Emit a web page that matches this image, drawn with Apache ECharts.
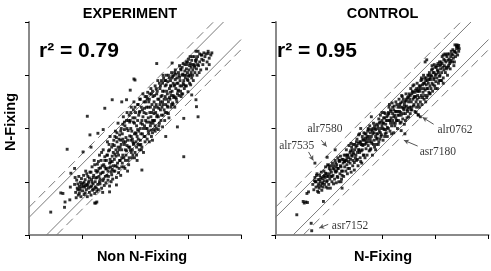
<!DOCTYPE html>
<html><head><meta charset="utf-8">
<script src="https://cdn.jsdelivr.net/npm/echarts@6/dist/echarts.min.js"></script>
<style>html,body{margin:0;padding:0;background:#fff}#c{width:491px;height:271px}</style>
</head><body><div id="c"></div>
<script>
// Values in hundredths of an axis unit (axes run 0..400, ticks every 100)
const tickValues = [0, 100, 200, 300, 400];
const solidOffsets = [33, -33];
const dashedOffsets = [52, -52];
const panelTitles = ['EXPERIMENT', 'CONTROL'];
const r2Labels = ['r\u00b2 = 0.79', 'r\u00b2 = 0.95'];
const xNames = ['Non N-Fixing', 'N-Fixing'];
const yName = 'N-Fixing';

const expPts = [
[86,95],[88,80],[90,103],[91,88],[93,75],[94,110],[95,92],[96,84],[97,99],[98,72],[99,106],[100,90],[87,108],[89,70],[92,96],[95,78],
[101,83],[102,97],[103,112],[104,76],[105,90],[106,104],[107,120],[108,85],[109,95],[110,72],[111,110],[112,88],[113,101],[114,80],[115,118],[103,92],[106,79],[109,115],[112,98],[114,107],
[116,90],[117,75],[118,104],[119,128],[120,84],[121,96],[122,112],[123,140],[124,78],[125,100],[126,121],[127,88],[128,108],[129,133],[130,95],[117,118],[119,99],[122,86],[124,132],[126,107],[128,82],[130,120],
[131,85],[132,110],[133,150],[134,96],[135,126],[136,140],[137,88],[138,117],[139,102],[140,160],[141,132],[142,93],[143,147],[144,110],[145,124],[131,138],[133,100],[135,115],[137,155],[139,80],[141,105],[143,128],[145,98],
[146,140],[147,112],[148,175],[149,103],[150,158],[151,126],[152,92],[153,185],[154,137],[155,118],[156,165],[157,148],[158,105],[159,130],[160,178],[147,150],[149,120],[151,170],[153,142],[155,100],[157,123],[159,155],[152,135],[156,113],
[161,142],[162,120],[163,195],[164,160],[165,108],[166,175],[167,135],[168,210],[169,150],[170,125],[171,188],[172,165],[173,112],[174,200],[175,145],[161,168],[163,130],[165,183],[167,155],[169,117],[171,140],[173,178],[175,128],[162,152],[166,192],[170,160],[174,170],
[176,190],[177,150],[178,222],[179,128],[180,170],[181,205],[182,140],[183,183],[184,158],[185,230],[186,120],[187,196],[188,165],[189,145],[190,212],[176,135],[178,175],[180,198],[182,160],[184,215],[186,178],[188,132],[190,186],[177,208],[181,125],[185,168],[189,225],
[191,160],[192,200],[193,240],[194,145],[195,180],[196,220],[197,170],[198,250],[199,190],[200,155],[201,230],[202,175],[203,205],[204,140],[205,245],[191,215],[193,185],[195,160],[197,235],[199,210],[201,192],[203,165],[205,198],[192,178],[196,150],[200,220],[204,185],[198,172],
[206,180],[207,225],[208,160],[209,255],[210,200],[211,170],[212,240],[213,215],[214,190],[215,265],[216,155],[217,230],[218,205],[219,175],[220,250],[207,195],[209,232],[211,210],[213,165],[215,222],[217,185],[219,260],[206,245],[210,178],[214,208],[218,238],
[221,200],[222,240],[223,180],[224,268],[225,220],[226,190],[227,255],[228,230],[229,205],[230,275],[231,185],[232,245],[233,215],[234,260],[235,198],[221,228],[223,255],[225,195],[227,212],[229,240],[231,265],[233,192],[235,235],[222,212],[226,250],[230,222],[234,210],
[236,250],[237,215],[238,280],[239,230],[240,200],[241,265],[242,240],[243,290],[244,222],[245,255],[246,210],[247,275],[248,235],[249,260],[250,290],[236,228],[238,205],[240,245],[242,270],[244,198],[246,285],[248,250],[237,262],[241,222],[245,238],[249,215],
[251,240],[252,270],[253,225],[254,295],[255,255],[256,215],[257,280],[258,245],[259,300],[260,230],[261,265],[262,288],[263,250],[264,220],[265,275],[251,262],[253,300],[255,235],[257,260],[259,282],[261,242],[263,228],[265,295],[252,250],[256,290],[260,270],
[266,255],[267,290],[268,240],[269,305],[270,270],[271,248],[272,285],[273,300],[274,260],[275,240],[276,310],[277,275],[278,255],[279,295],[280,265],[267,268],[269,245],[271,298],[273,258],[275,282],[277,302],[279,250],[268,280],[272,262],[276,292],
[281,285],[282,305],[283,262],[284,318],[285,290],[286,270],[287,310],[288,280],[289,300],[290,265],[291,322],[292,290],[293,275],[294,308],[295,295],[282,272],[284,296],[286,312],[288,265],[290,302],[292,282],[294,320],
[296,300],[297,280],[298,320],[299,305],[300,290],[301,330],[302,310],[303,285],[304,322],[305,300],[306,315],[307,295],[308,335],[309,310],[310,290],[297,312],[299,325],[301,298],[303,318],[305,282],[307,328],[309,300],
[311,320],[312,335],[313,305],[314,328],[315,345],[316,312],[317,300],[318,335],[320,318],[322,340],[324,310],[326,330],[328,320],[330,342],[313,318],[316,330],[319,345],[321,305],[325,338],[329,328],
[332,335],[334,340],[336,325],[338,345],[340,332],[343,338],[345,342],[335,312],[340,320]
];
const expCore = [
[96,88],[99,95],[104,99],[107,93],[111,93],[118,92],[121,108],[125,90],[128,118],[132,125],[134,105],[138,130],[140,118],[143,140],[146,125],[148,150],[150,110],[152,160],[154,128],[157,138],[158,170],[160,120],[162,185],[164,148],[166,128],[168,165],[170,180],[172,140],[173,195],[175,160],[177,180],[179,145],[180,212],[182,175],[183,150],[185,200],[187,140],[188,215],[190,165],[192,230],[193,155],[194,195],[196,175],[197,212],[199,145],[200,240],[202,190],[203,150],[205,215],[206,170],[208,230],[210,255],[211,190],[212,160],[214,235],[216,200],[217,250],[219,185],[220,215],[222,260],[223,200],[225,240],[227,175],[228,265],[230,210],[232,230],[233,270],[235,215],[237,240],[238,195],[240,275],[242,225],[243,255],[245,205],[247,245],[248,280],[250,225],[252,285],[253,245],[255,270],[257,230],[258,290],[260,255],[262,240],[263,300],[265,258],[267,280],[268,262],[270,295],[272,245],[274,280],[275,305],[277,258],[279,285],[281,270],[283,300],[285,280],[287,260],[289,315],[291,285],[293,300],[295,280],[297,325],[299,292],[302,300],[304,335],[306,305],[308,320],[312,315],[315,325],[318,320],[322,325]
];
const expOutliers = [
[41,43],[64,78],[67,52],[72,161],[77,66],[86,125],[92,85],[102,156],[115,188],[130,191],[124,60],[126,60],[152,81],[165,94],[110,223],[143,238],[157,254],[175,250],[184,254],[191,272],[200,291],[198,293],[241,322],[270,323],
[307,263],[300,269],[252,203],[258,185],[230,197],[233,178],[209,169],[280,203],[292,219],[319,222],[316,241],[315,254],[292,147],[213,122],[60,79],[79,116],[117,165],[68,62],[128,62],[326,338],[338,341],[78,90],[140,198]
];

const ctlPts = [
[70,95],[72,85],[74,108],[75,100],[76,90],[78,115],[79,82],[80,104],[81,96],[82,88],[83,112],[84,100],[85,92],[86,118],[87,84],[88,106],[89,98],[90,110],[73,102],[77,112],[81,80],[85,108],[89,90],
[91,120],[92,95],[93,108],[94,128],[95,90],[96,115],[97,102],[98,132],[99,110],[100,95],[101,125],[102,105],[103,88],[104,130],[105,118],[106,100],[107,135],[108,112],[109,96],[110,124],[92,112],[96,100],[100,130],[104,110],[108,125],[98,88],
[111,105],[112,140],[113,118],[114,98],[115,132],[116,110],[117,145],[118,125],[119,100],[120,138],[121,115],[122,148],[123,128],[124,105],[125,142],[126,120],[127,135],[128,110],[129,150],[130,128],[113,135],[117,108],[121,140],[125,112],[129,138],[115,120],[123,100],
[131,140],[132,120],[133,160],[134,132],[135,115],[136,150],[137,138],[138,168],[139,125],[140,155],[141,142],[142,118],[143,165],[144,148],[145,130],[146,170],[147,152],[148,136],[149,160],[150,145],[132,150],[136,125],[140,135],[144,160],[148,122],[134,145],[142,172],[146,140],
[151,165],[152,140],[153,180],[154,155],[155,130],[156,172],[157,160],[158,190],[159,145],[160,175],[161,158],[162,135],[163,185],[164,168],[165,150],[166,192],[167,170],[168,145],[169,182],[170,162],[152,175],[154,142],[156,188],[158,155],[160,138],[162,170],[164,180],[166,150],[168,178],[170,190],
[171,175],[172,150],[173,195],[174,168],[175,185],[176,158],[177,205],[178,180],[179,162],[180,198],[181,172],[182,150],[183,190],[184,210],[185,178],[186,165],[187,200],[188,185],[189,170],[190,208],[172,185],[174,200],[176,175],[178,160],[180,185],[182,195],[184,170],[186,205],[188,160],[190,190],
[191,182],[192,205],[193,170],[194,218],[195,195],[196,180],[197,225],[198,200],[199,188],[200,230],[201,210],[202,178],[203,220],[204,198],[205,185],[206,228],[207,208],[208,192],[209,222],[210,202],[192,190],[194,175],[196,212],[198,185],[200,215],[202,200],[204,230],[206,190],[208,215],[210,185],
[211,225],[212,200],[213,240],[214,215],[215,195],[216,235],[217,220],[218,205],[219,248],[220,228],[221,210],[222,192],[223,242],[224,225],[225,210],[226,250],[227,232],[228,215],[229,200],[230,240],[212,230],[214,245],[216,210],[218,190],[220,215],[222,235],[224,205],[226,220],[228,245],[230,225],
[231,215],[232,255],[233,232],[234,210],[235,248],[236,225],[237,262],[238,240],[239,218],[240,255],[241,235],[242,208],[243,250],[244,228],[245,265],[246,242],[247,220],[248,258],[249,238],[250,250],[232,225],[234,240],[236,212],[238,260],[240,228],[242,245],[244,215],[246,255],[248,232],[250,222],
[251,265],[252,240],[253,228],[254,275],[255,250],[256,235],[257,270],[258,255],[259,242],[260,282],[261,260],[262,232],[263,272],[264,250],[265,240],[266,285],[267,262],[268,245],[269,275],[270,258],[252,255],[254,235],[256,265],[258,280],[260,245],[262,268],[264,230],[266,255],[268,270],[270,240],
[271,270],[272,250],[273,290],[274,262],[275,245],[276,282],[277,268],[278,300],[279,255],[280,285],[281,272],[282,250],[283,295],[284,275],[285,262],[286,300],[287,285],[288,268],[289,305],[290,280],[272,280],[274,295],[276,258],[278,275],[280,262],[282,290],[284,258],[286,275],[288,292],[290,265],
[291,292],[292,275],[293,310],[294,285],[295,270],[296,305],[297,292],[298,320],[299,280],[300,300],[301,288],[302,315],[303,295],[304,275],[305,322],[306,305],[307,290],[308,318],[309,300],[310,312],[292,300],[294,318],[296,282],[298,295],[300,275],[302,302],[304,310],[306,285],[308,298],[310,290],
[311,325],[312,305],[313,335],[314,315],[315,295],[316,330],[317,318],[318,340],[319,305],[320,325],[321,312],[322,335],[323,300],[324,328],[325,318],[326,340],[327,322],[328,312],[329,335],[330,328],[312,290],[316,310],[320,338],[324,315],[328,325],
[331,340],[332,325],[333,348],[334,332],[335,318],[336,345],[338,335],[340,350],[342,338],[344,345],[336,325],[339,342],[343,352],
[340,355],[341,357],[345,350],[337,344],[344,356]
];
const ctlCore = [
[76,100],[80,92],[83,104],[87,96],[91,102],[94,116],[97,110],[101,115],[103,122],[106,110],[109,130],[112,120],[114,128],[117,125],[119,140],[122,130],[124,120],[127,142],[130,138],[133,140],[135,150],[138,145],[141,158],[143,150],[146,155],[149,170],[151,150],[153,168],[156,160],[158,175],[161,170],[163,160],[165,178],[168,190],[170,172],[173,180],[175,198],[178,192],[180,175],[183,200],[185,192],[188,198],[190,180],[193,200],[195,210],[197,192],[200,205],[203,210],[205,220],[207,198],[210,215],[213,228],[215,215],[217,232],[220,240],[222,222],[225,232],[227,215],[230,232],[233,245],[235,230],[238,250],[240,238],[243,240],[245,252],[247,235],[250,260],[253,262],[255,240],[258,268],[260,258],[263,260],[265,275],[267,270],[270,280],[273,275],[275,292],[278,285],[280,295],[283,282],[285,290],[288,300],[290,295],[293,298],[295,312],[298,305],[300,315],[303,318],[305,308],[308,325],[310,320],[313,322],[315,338],[318,328],[320,315],[323,340],[326,330],[330,345],[333,338]
];
const ctlOutliers = [
[74,135],[97,146],[62,81],[52,63],[54,60],[57,62],[60,61],[40,38],[90,63],[59,78],[67,22],[68,8],[272,222],[268,226],[236,196],[243,190],
[284,329],[281,325],[290,266],[315,285],[268,225],[341,354],[337,357],[125,88],[112,160],[180,222],[160,200]
];

// annotation labels (right panel) and arrows: [from, to]
const annNames = ['alr7580', 'alr7535', 'alr0762', 'asr7180', 'asr7152'];
const annLabelAt = [[93,200],[40,167],[337,198],[305,156],[140,17]];
const annArrows = [
  [[86,178],[96,166]],
  [[62,156],[71,140]],
  [[297,208],[276,221]],
  [[267,167],[241,178]],
  [[99,20],[82,13]]
];

function diagLine(off) { return off >= 0 ? [[0, off], [400 - off, 400]] : [[-off, 0], [400, 400 + off]]; }

const chart = echarts.init(document.getElementById('c'), null, {renderer: 'canvas'});
const grids = [
  {left: 29, top: 22, width: 212, height: 213},
  {left: 275.5, top: 22, width: 213, height: 213}
];
const xAxes = [], yAxes = [];
grids.forEach((g, i) => {
  xAxes.push({gridIndex: i, type: 'value', min: 0, max: 400, interval: 100, position: 'bottom',
    axisLine: {lineStyle: {color: '#000', width: 1}}, axisTick: {show: true, inside: false, length: 4, lineStyle: {color: '#000'}},
    axisLabel: {show: false}, splitLine: {show: false}});
  xAxes.push({gridIndex: i, type: 'value', min: 0, max: 400, position: 'top',
    axisLine: {lineStyle: {color: '#8a8a8a', width: 2}}, axisTick: {show: false}, axisLabel: {show: false}, splitLine: {show: false}});
  yAxes.push({gridIndex: i, type: 'value', min: 0, max: 400, interval: 100, position: 'left',
    axisLine: {lineStyle: {color: '#000', width: 1}}, axisTick: {show: true, inside: false, length: 4, lineStyle: {color: '#000'}},
    axisLabel: {show: false}, splitLine: {show: false}});
  yAxes.push({gridIndex: i, type: 'value', min: 0, max: 400, position: 'right',
    axisLine: {lineStyle: {color: '#8a8a8a', width: 2}}, axisTick: {show: false}, axisLabel: {show: false}, splitLine: {show: false}});
});

const series = [];
[0, 1].forEach(p => {
  solidOffsets.forEach(o => series.push({type: 'line', xAxisIndex: p * 2, yAxisIndex: p * 2, data: diagLine(o), symbol: 'none', silent: true, clip: true,
    lineStyle: {color: '#7a7a7a', width: 1}, z: 1}));
  dashedOffsets.forEach(o => series.push({type: 'line', xAxisIndex: p * 2, yAxisIndex: p * 2, data: diagLine(o), symbol: 'none', silent: true, clip: true,
    lineStyle: {color: '#7a7a7a', width: 1, type: [9, 5]}, z: 1}));
});
series.push({type: 'scatter', xAxisIndex: 0, yAxisIndex: 0, data: expPts.concat(expCore, expOutliers), symbol: 'rect', symbolSize: 2.9,
  itemStyle: {color: '#000'}, z: 3});
series.push({type: 'scatter', xAxisIndex: 2, yAxisIndex: 2, data: ctlPts.concat(ctlCore, ctlOutliers), symbol: 'rect', symbolSize: 2.9,
  itemStyle: {color: '#000'}, z: 3,
  markLine: {silent: true, symbol: ['none', 'arrow'], symbolSize: [4, 5], animation: false,
    lineStyle: {color: '#555', width: 1, type: 'solid'}, label: {show: false},
    data: annArrows.map(a => [{coord: a[0]}, {coord: a[1]}])}
});
series.push({type: 'scatter', xAxisIndex: 2, yAxisIndex: 2, symbolSize: 0, silent: true, z: 4,
  data: annLabelAt.map((c, i) => ({value: c, name: annNames[i]})),
  label: {show: true, position: 'inside', formatter: p => p.name, color: '#000',
    fontFamily: '"Liberation Serif", "Times New Roman", serif', fontSize: 11.5}});

const boldFont = '"Liberation Sans", Arial, Helvetica, sans-serif';
const graphic = [
  {type: 'text', x: 130, y: 13.5, style: {text: panelTitles[0], font: 'bold 14.5px ' + boldFont, fill: '#000', textAlign: 'center', textVerticalAlign: 'middle'}},
  {type: 'text', x: 382.5, y: 13.5, style: {text: panelTitles[1], font: 'bold 14.5px ' + boldFont, fill: '#000', textAlign: 'center', textVerticalAlign: 'middle'}},
  {type: 'text', x: 39, y: 51, style: {text: r2Labels[0], font: 'bold 21px ' + boldFont, fill: '#000', textAlign: 'left', textVerticalAlign: 'middle'}},
  {type: 'text', x: 277, y: 51, style: {text: r2Labels[1], font: 'bold 21px ' + boldFont, fill: '#000', textAlign: 'left', textVerticalAlign: 'middle'}},
  {type: 'text', x: 142, y: 257, style: {text: xNames[0], font: 'bold 14.5px ' + boldFont, fill: '#000', textAlign: 'center', textVerticalAlign: 'middle'}},
  {type: 'text', x: 383, y: 257, style: {text: xNames[1], font: 'bold 14.5px ' + boldFont, fill: '#000', textAlign: 'center', textVerticalAlign: 'middle'}},
  {type: 'text', x: 11, y: 122, rotation: Math.PI / 2, style: {text: yName, font: 'bold 14.5px ' + boldFont, fill: '#000', textAlign: 'center', textVerticalAlign: 'middle'}}
];

chart.setOption({animation: false, backgroundColor: '#fff', grid: grids, xAxis: xAxes, yAxis: yAxes, series: series, graphic: graphic});
</script>
</body></html>
